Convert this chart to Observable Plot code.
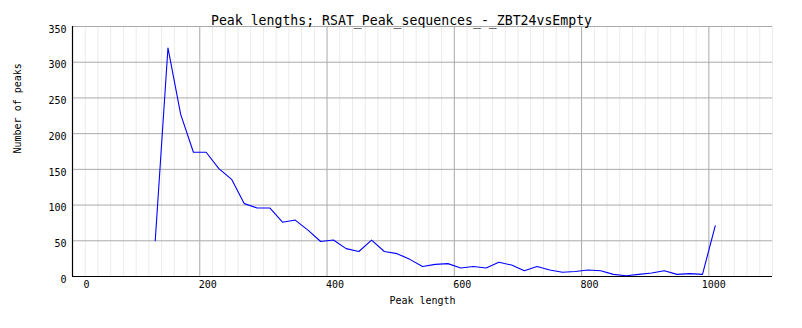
<!DOCTYPE html>
<html>
<head>
<meta charset="utf-8">
<script src="https://cdn.jsdelivr.net/npm/d3@7"></script>
<script src="https://cdn.jsdelivr.net/npm/@observablehq/plot@0.6"></script>
<style>
  html, body { margin: 0; padding: 0; background: #ffffff; }
  #chart svg { display: block; }
</style>
</head>
<body>
<div id="chart"></div>
<script>
const titleText = "Peak lengths; RSAT_Peak_sequences_-_ZBT24vsEmpty";
const xLabel = "Peak length";
const yLabel = "Number of peaks";

const peakLength = [130, 150, 170, 190, 210, 230, 250, 270, 290, 310, 330, 350, 370, 390, 410,
  430, 450, 470, 490, 510, 530, 550, 570, 590, 610, 630, 650, 670, 690, 710,
  730, 750, 770, 790, 810, 830, 850, 870, 890, 910, 930, 950, 970, 990, 1010];
const peakCount = [50, 320, 227, 174, 174, 151, 136, 102, 96, 96, 76, 79, 65, 49, 51,
  39, 35, 51, 35, 32, 24, 14, 17, 18, 12, 14, 12, 20, 16, 8,
  14, 9, 6, 7, 9, 8, 3, 1, 3, 5, 8, 3, 4, 3, 71];

const xTicks = [0, 200, 400, 600, 800, 1000];
const xMinorTicks = [20, 40, 60, 80, 100, 120, 140, 160, 180, 220, 240, 260, 280, 300, 320, 340, 360, 380,
  420, 440, 460, 480, 500, 520, 540, 560, 580, 620, 640, 660, 680, 700, 720, 740, 760, 780,
  820, 840, 860, 880, 900, 920, 940, 960, 980, 1020, 1040, 1060, 1080, 1100];
const yTicks = [0, 50, 100, 150, 200, 250, 300, 350];

const data = peakLength.map((x, i) => ({x, y: peakCount[i]}));

const W = 802, H = 328;
const mL = 72, mR = 30, mT = 26, mB = 52;
const titleDx = W / 2 - (mL + (W - mL - mR) / 2);

const chart = Plot.plot({
  width: W,
  height: H,
  marginLeft: mL,
  marginRight: mR,
  marginTop: mT,
  marginBottom: mB,
  x: {domain: [0, 1100], axis: null},
  y: {domain: [0, 350], axis: null},
  style: {fontFamily: "DejaVu Sans Mono", background: "#ffffff", color: "#000000"},
  marks: [
    Plot.ruleX(xMinorTicks, {x: d => d, stroke: "#ebebeb", strokeWidth: 1}),
    Plot.ruleX(xTicks.filter(d => d > 0), {x: d => d, stroke: "#aaaaaa", strokeWidth: 1}),
    Plot.ruleY(yTicks.filter(d => d > 0), {y: d => d, stroke: "#aaaaaa", strokeWidth: 1}),
    Plot.ruleX([0], {stroke: "#000000", strokeWidth: 1.2}),
    Plot.ruleY([0], {stroke: "#000000", strokeWidth: 1.2}),
    Plot.line(data, {x: "x", y: "y", stroke: "#0000ff", strokeWidth: 1.1}),
    Plot.text(yTicks, {y: d => d, text: d => String(d), frameAnchor: "left", textAnchor: "end", dx: -6, dy: 3, fontSize: 10, fill: "#000000"}),
    Plot.text(xTicks, {x: d => d, text: d => String(d), frameAnchor: "bottom", textAnchor: "end", dx: 17, dy: 11, fontSize: 10, fill: "#000000"}),
    Plot.text([xLabel], {text: d => d, frameAnchor: "bottom", dy: 27, fontSize: 10, fill: "#000000"}),
    Plot.text([yLabel], {text: d => d, frameAnchor: "left", rotate: -90, dx: -55, dy: 2, fontSize: 10, fill: "#000000"}),
    Plot.text([titleText], {text: d => d, frameAnchor: "top", dx: titleDx, dy: -11, fontSize: 13.2, fill: "#000000"})
  ]
});
document.getElementById("chart").appendChild(chart);
</script>
</body>
</html>
